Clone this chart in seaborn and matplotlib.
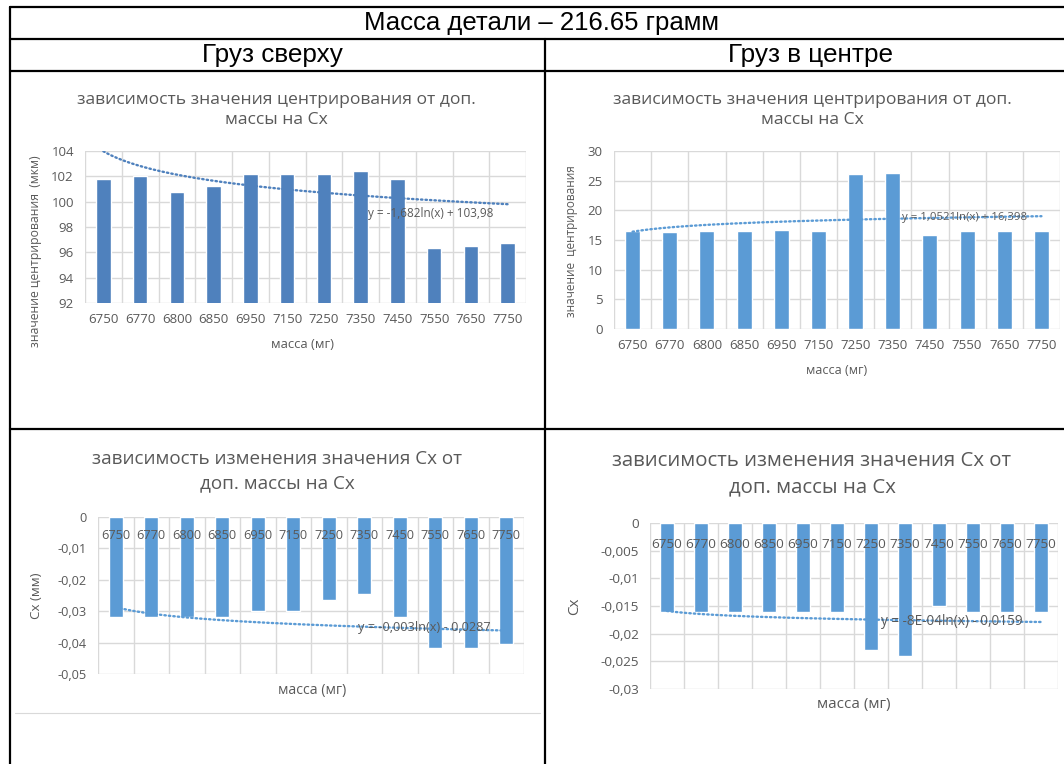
import numpy as np
import matplotlib
matplotlib.use("Agg")
import matplotlib.pyplot as plt
from matplotlib.lines import Line2D
from matplotlib.ticker import MultipleLocator, FuncFormatter
import seaborn as sns

# ---- data ----
masses = ["6750", "6770", "6800", "6850", "6950", "7150",
          "7250", "7350", "7450", "7550", "7650", "7750"]

top_centering = [101.82, 102.03, 100.76, 101.24, 102.16, 102.16,
                 102.21, 102.45, 101.82, 96.37, 96.47, 96.71]
center_centering = [16.54, 16.37, 16.54, 16.54, 16.76, 16.54,
                    26.07, 26.30, 15.81, 16.54, 16.54, 16.54]
top_cx = [-0.0320, -0.0320, -0.0320, -0.0320, -0.0300, -0.0300,
          -0.0265, -0.0246, -0.0320, -0.0418, -0.0418, -0.0406]
center_cx = [-0.0160, -0.0160, -0.0160, -0.0160, -0.0160, -0.0160,
             -0.0230, -0.0240, -0.0150, -0.0160, -0.0160, -0.0160]

# logarithmic trend lines: y = a*ln(x) + b
top_centering_trend = [-1.682, 103.98]
center_centering_trend = [1.0521, 16.398]
top_cx_trend = [-0.003, -0.0287]
center_cx_trend = [-8e-04, -0.0159]

top_centering_eq = "y = -1,682ln(x) + 103,98"
center_centering_eq = "y = 1,0521ln(x) + 16,398"
top_cx_eq = "y = -0,003ln(x) - 0,0287"
center_cx_eq = "y = -8E-04ln(x) - 0,0159"

table_title = "Масса детали – 216.65 грамм"
col_titles = ["Груз сверху", "Груз в центре"]
title_centering = "зависимость значения центрирования от доп.\nмассы на Cx"
title_cx = "зависимость изменения значения Cx от\nдоп. массы на Cx"
xlabel = "масса (мг)"

# ---- style ----
sns.set_style("white")
plt.rcParams["font.family"] = ["Open Sans", "DejaVu Sans"]

W, H = 1064, 764
fig = plt.figure(figsize=(W / 100, H / 100), dpi=100)

TXT = "#595959"
GRID = "#D9D9D9"
DARK_BLUE = "#4F81BD"
BLUE = "#5B9BD5"


def box(l, t, r, b):
    return [l / W, 1 - b / H, (r - l) / W, (b - t) / H]


def fx(x):
    return x / W


def fy(y):
    return 1 - y / H


def general(v, pos=None):
    if abs(v) < 1e-12:
        return "0"
    return f"{v:.10g}".replace(".", ",")


def chart(rect, values, color, trend, eq, eq_xy, ylim, ystep, ylab,
          ylab_xy, xlab_xy, tick_fs, eq_fs, lab_fs, labels_top=False,
          top_pad=0.0):
    ax = fig.add_axes(box(*rect))
    sns.barplot(x=masses, y=values, color=color, width=0.4, saturation=1,
                ax=ax, zorder=1)
    n = len(masses)
    xs = np.linspace(1, n, 300)
    ax.plot(xs - 1, trend[0] * np.log(xs) + trend[1], color=color,
            lw=1.7, ls=(0, (0.6, 1.3)), dash_capstyle="round", zorder=4)
    ax.text(eq_xy[0], eq_xy[1], eq, ha="center", va="center",
            fontsize=eq_fs, color=TXT, zorder=5)
    ax.set_xlim(-0.5, n - 0.5)
    ax.set_ylim(*ylim)
    ax.yaxis.set_major_locator(MultipleLocator(ystep))
    ax.yaxis.set_major_formatter(FuncFormatter(general))

    # gridlines kept under the bars while tick labels stay on top
    ax.set_axisbelow(False)
    for yv in ax.get_yticks():
        if ylim[0] - 1e-12 <= yv <= ylim[1] + 1e-12:
            ax.axhline(yv, color=GRID, lw=1.0, zorder=0)
    for xv in np.arange(-0.5, n, 1):
        ax.axvline(xv, color=GRID, lw=1.0, zorder=0)
    ax.grid(False)
    for s in ax.spines.values():
        s.set_visible(False)
    ax.tick_params(axis="both", which="both", length=0, colors=TXT,
                   labelsize=tick_fs)
    ax.tick_params(axis="y", pad=8)
    if labels_top:
        ax.tick_params(axis="x", labelbottom=False, labeltop=True,
                       pad=top_pad)
    else:
        ax.tick_params(axis="x", pad=7)
    ax.set_xlabel(xlabel, fontsize=lab_fs, color=TXT)
    ax.xaxis.set_label_coords(*xlab_xy)
    ax.set_ylabel(ylab, fontsize=lab_fs - 0.6 if len(ylab) > 5 else lab_fs,
                  color=TXT)
    ax.yaxis.set_label_coords(*ylab_xy)
    return ax


# top-left: load on top, centering value
chart((85, 151, 526, 303), top_centering, DARK_BLUE, top_centering_trend,
      top_centering_eq, (8.9, 99.1), (92, 104), 2,
      "значение центрирования  (мкм)", (-0.098, 0.34), (0.494, -0.23),
      9.5, 8.5, 9.4)
fig.text(fx(276), fy(110), title_centering, ha="center", va="center",
         fontsize=12.6, color=TXT, linespacing=1.4)

# top-right: load in the center, centering value
chart((614, 151, 1060, 329), center_centering, BLUE,
      center_centering_trend, center_centering_eq, (8.94, 18.84),
      (0, 30), 5, "значение  центрирования", (-0.081, 0.494),
      (0.5, -0.195), 9.5, 8.2, 9.1)
fig.text(fx(812), fy(110), title_centering, ha="center", va="center",
         fontsize=12.6, color=TXT, linespacing=1.4)

# bottom-left: load on top, Cx change
chart((98, 517, 524, 674), top_cx, BLUE, top_cx_trend, top_cx_eq,
      (8.68, -0.0352), (-0.05, 0), 0.01, "Cx (мм)", (-0.13, 0.497),
      (0.502, -0.055), 9.2, 9.2, 10.2, labels_top=True, top_pad=-18)
fig.text(fx(277), fy(471), title_cx, ha="center", va="center",
         fontsize=13.6, color=TXT, linespacing=1.45)

# bottom-right: load in the center, Cx change
chart((650, 523, 1058, 689), center_cx, BLUE, center_cx_trend,
      center_cx_eq, (8.38, -0.01784), (-0.03, 0), 0.005, "Cx",
      (-0.167, 0.5), (0.5, -0.05), 9.7, 9.8, 11, labels_top=True,
      top_pad=-20)
fig.text(fx(812), fy(474), title_cx, ha="center", va="center",
         fontsize=14.7, color=TXT, linespacing=1.45)

# ---- table frame ----
LW = 1.6


def hline(y, x0=10, x1=1080, color="black", lw=LW):
    fig.add_artist(Line2D([fx(x0), fx(x1)], [fy(y), fy(y)], color=color,
                          lw=lw, transform=fig.transFigure))


def vline(x, y0, y1, color="black", lw=LW):
    fig.add_artist(Line2D([fx(x), fx(x)], [fy(y0), fy(y1)], color=color,
                          lw=lw, transform=fig.transFigure))


for y in (7, 39, 71, 429):
    hline(y)
vline(10, 7, 770)
vline(545, 39, 770)
hline(713, 15, 540, color=GRID, lw=0.8)

fig.text(fx(542), fy(23), table_title, ha="center", va="center",
         fontsize=18.5, family="Liberation Sans", color="black")
fig.text(fx(272), fy(55), col_titles[0], ha="center", va="center",
         fontsize=18.8, family="Liberation Sans", color="black")
fig.text(fx(810), fy(55), col_titles[1], ha="center", va="center",
         fontsize=18.8, family="Liberation Sans", color="black")

fig.savefig("out.png", dpi=100, facecolor="white")
